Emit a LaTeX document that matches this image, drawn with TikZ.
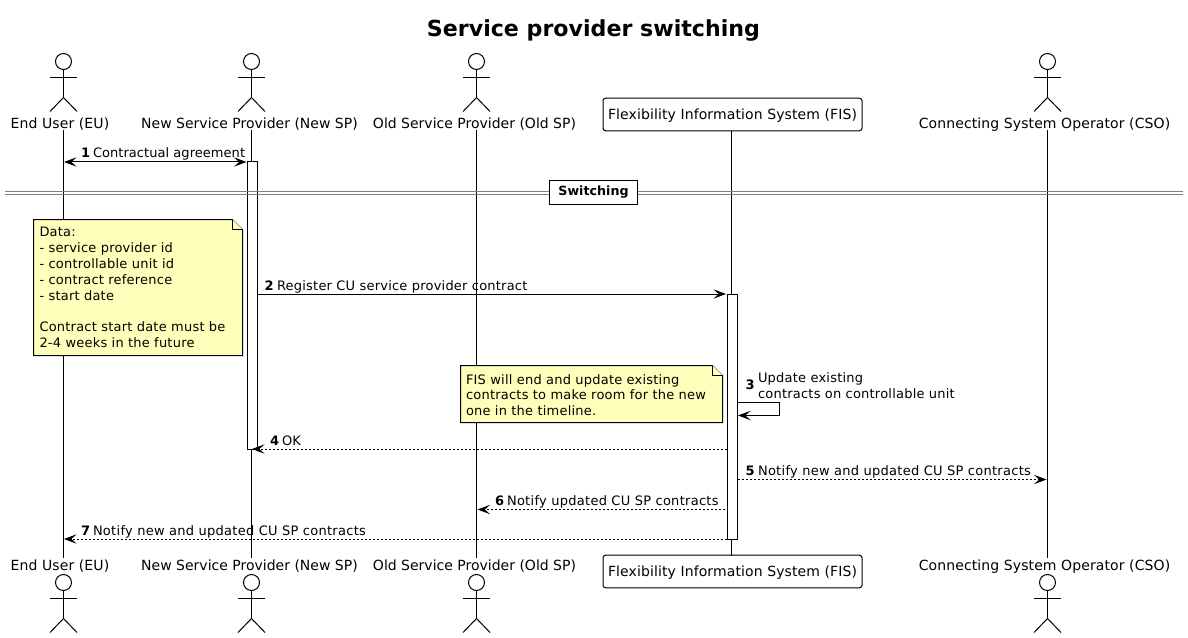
\documentclass[tikz,border=0pt]{standalone}
\usepackage{fontspec}
\setmainfont{DejaVu Sans}
\newfontfamily\msgfont[LetterSpace=1.7]{DejaVu Sans}
\newfontfamily\msgwide[LetterSpace=2.2]{DejaVu Sans}
\newfontfamily\msgtight[LetterSpace=0.4]{DejaVu Sans}
\newfontfamily\actwide[LetterSpace=0.8]{DejaVu Sans}
\usetikzlibrary{arrows.meta}
\definecolor{notefill}{HTML}{FFFFBB}
\definecolor{ink}{HTML}{000000}
\definecolor{divgrey}{HTML}{808080}
\tikzset{
  tip/.tip={Stealth[length=9.4pt,width=7pt,inset=3.9pt]},
  lab/.style={inner sep=0pt,outer sep=0pt,anchor=base west,font=\msgfont\fontsize{9.75pt}{11pt}\selectfont,text=ink},
  labwide/.style={lab,font=\msgwide\fontsize{9.75pt}{11pt}\selectfont},
  labtight/.style={lab,font=\msgtight\fontsize{9.75pt}{11pt}\selectfont},
  actlab/.style={inner sep=0pt,outer sep=0pt,anchor=base,font=\fontsize{10.5pt}{12pt}\selectfont,text=ink},
  actlabwide/.style={actlab,font=\actwide\fontsize{10.5pt}{12pt}\selectfont},
  num/.style={lab,font=\fontsize{9.75pt}{11pt}\bfseries\selectfont},
  box/.style={draw=ink,fill=white,line width=0.75pt,rounded corners=1.9pt,minimum width=194.25pt,minimum height=24.4pt,inner sep=0pt,text height=8pt,text depth=0.5pt,font=\actwide\fontsize{10.5pt}{12pt}\selectfont},
  life/.style={draw=ink,line width=0.75pt},
  msg/.style={draw=ink,line width=0.75pt,-tip},
  dmsg/.style={msg,dash pattern=on 1.5pt off 1.5pt},
  actbar/.style={draw=ink,fill=white,line width=0.75pt},
  figure/.style={draw=ink,line width=0.75pt,fill=none},
  note/.style={draw=ink,fill=notefill,line width=0.75pt},
  divline/.style={draw=divgrey,line width=0.75pt},
}
\newcommand{\stick}[2]{% x, head centre y
  \draw[figure] (#1,#2) circle[radius=6pt];
  \draw[figure] (#1,#2+8) -- (#1,#2+36);
  \draw[figure] (#1-13.5,#2+16) -- (#1+13.5,#2+16);
  \draw[figure] (#1-13.5,#2+50) -- (#1,#2+36) -- (#1+13.5,#2+50);
}
\begin{document}
\begin{tikzpicture}[x=0.75pt,y=-0.75pt]
\path[use as bounding box,fill=white] (0,0) rectangle (1188,638);

% title
\node[inner sep=0pt,anchor=base,font=\fontsize{16.6pt}{20pt}\bfseries\selectfont] (title) at (593.5,37) {Service provider switching};

% top participants
\node[actlabwide] (euT) at (60,128.7) {End User (EU)};
\node[actlab] (nsT) at (249.5,128.7) {New Service Provider (New SP)};
\node[actlab] (osT) at (474.5,128.7) {Old Service Provider (Old SP)};
\node[box] (fisT) at (732.5,114.5) {Flexibility Information System (FIS)};
\node[actlabwide] (csT) at (1044.5,128.7) {Connecting System Operator (CSO)};
% bottom participants
\node[actlabwide] (euB) at (60,570) {End User (EU)};
\node[actlab] (nsB) at (249.5,570) {New Service Provider (New SP)};
\node[actlab] (osB) at (474.5,570) {Old Service Provider (Old SP)};
\node[box] (fisB) at (732.5,571.5) {Flexibility Information System (FIS)};
\node[actlabwide] (csB) at (1044.5,570) {Connecting System Operator (CSO)};

% lifelines
\foreach \lx/\nm in {63.5/eu,251.5/ns,476.5/os,1047.5/cs}{
  \coordinate (\nm T) at (\lx,130);
  \coordinate (\nm E) at (\lx,558);
}
\coordinate (fT) at (731.5,131);
\coordinate (fE) at (731.5,556);
\draw[life] (euT) -- (euE);
\draw[life] (nsT) -- (nsE);
\draw[life] (osT) -- (osE);
\draw[life] (fT) -- (fE);
\draw[life] (csT) -- (csE);

% stick figures
\foreach \lx in {63.5,251.5,476.5,1047.5}{
  \stick{\lx}{61.5}
  \stick{\lx}{582.5}
}

% activation bars
\draw[actbar] (247.5,162) rectangle (257.5,449);
\draw[actbar] (727.5,294) rectangle (737.5,539);

% divider
\draw[divline] (5,191.7) -- (1183,191.7);
\draw[divline] (5,194.3) -- (1183,194.3);
\node[draw=ink,fill=white,line width=0.75pt,inner sep=0pt,minimum width=66.3pt,minimum height=18.2pt,font=\fontsize{9.5pt}{11pt}\bfseries\selectfont] (sw) at (593.5,192.2) {Switching\hspace{4.5pt}};

% notes
\draw[note] (33.5,219.5) -- (232.5,219.5) -- (242.5,229.5) -- (242.5,355.5) -- (33.5,355.5) -- cycle;
\draw[note] (232.5,219.5) -- (232.5,229.5) -- (242.5,229.5);
\node[lab] (n1a) at (39.5,236.7) {Data:};
\node[lab] (n1b) at (39.5,252.7) {- service provider id};
\node[lab] (n1c) at (39.5,268.7) {- controllable unit id};
\node[lab] (n1d) at (39.5,284.7) {- contract reference};
\node[lab] (n1e) at (39.5,300.7) {- start date};
\node[lab] (n1f) at (39.5,331.7) {Contract start date must be};
\node[lab] (n1g) at (39.5,347.3) {2-4 weeks in the future};

\draw[note] (460.5,365.5) -- (712.5,365.5) -- (722.5,375.5) -- (722.5,422.5) -- (460.5,422.5) -- cycle;
\draw[note] (712.5,365.5) -- (712.5,375.5) -- (722.5,375.5);
\node[lab] (n2a) at (466,384) {FIS will end and update existing};
\node[lab] (n2b) at (466,399.5) {contracts to make room for the new};
\node[lab] (n2c) at (466,415) {one in the timeline.};

% message anchor points
\coordinate (m1a) at (64,162);    \coordinate (m1b) at (246.5,162);
\coordinate (m2a) at (257.5,294); \coordinate (m2b) at (726,294);
\coordinate (m3a) at (737.5,402.5); \coordinate (m3c) at (779.5,402.5);
\coordinate (m3d) at (779.5,415.5); \coordinate (m3b) at (738,415.5);
\coordinate (m4a) at (727,449);   \coordinate (m4b) at (252,449);
\coordinate (m5a) at (738,479.5); \coordinate (m5b) at (1046.5,479.5);
\coordinate (m6a) at (725,509.5); \coordinate (m6b) at (477.5,509.5);
\coordinate (m7a) at (727,539);   \coordinate (m7b) at (64,539);

% messages
\draw[msg,tip-tip] (m1a) -- (m1b);
\draw[msg] (m2a) -- (m2b);
\draw[msg] (m3a) -- (m3c) -- (m3d) -- (m3b);
\draw[dmsg] (m4a) -- (m4b);
\draw[dmsg] (m5a) -- (m5b);
\draw[dmsg] (m6a) -- (m6b);
\draw[dmsg] (m7a) -- (m7b);

% labels
\node[num] (l1n) at (81,158) {1};
\node[labtight] (l1) at (93,158) {Contractual agreement};
\node[num] (l2n) at (264.5,290) {2};
\node[lab] (l2) at (277,290) {Register CU service provider contract};
\node[num] (l3n) at (745.5,389) {3};
\node[lab] (l3a) at (758,382) {Update existing};
\node[lab] (l3b) at (758,398) {contracts on controllable unit};
\node[num] (l4n) at (270,445) {4};
\node[lab] (l4) at (282,445) {OK};
\node[num] (l5n) at (745.5,475) {5};
\node[labwide] (l5) at (758,475) {Notify new and updated CU SP contracts};
\node[num] (l6n) at (495,505) {6};
\node[labwide] (l6) at (507,505) {Notify updated CU SP contracts};
\node[num] (l7n) at (81,535) {7};
\node[labwide] (l7) at (93,535) {Notify new and updated CU SP contracts};
\end{tikzpicture}
\end{document}
